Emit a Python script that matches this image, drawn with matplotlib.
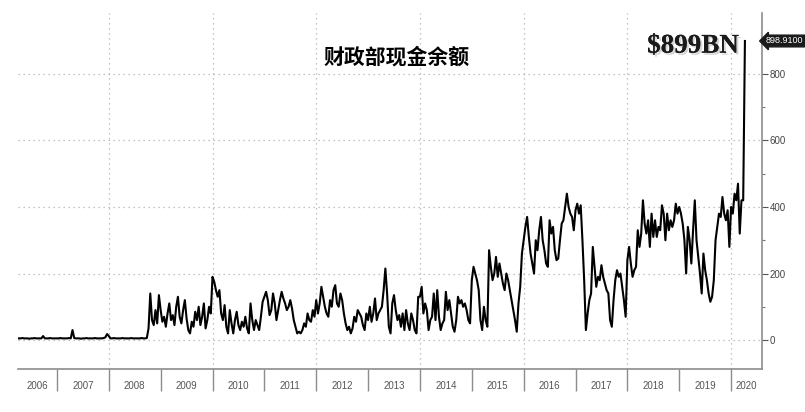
import numpy as np
import matplotlib.pyplot as plt
from matplotlib import patheffects

plt.rcParams['font.family'] = ['Liberation Sans Narrow', 'Liberation Sans', 'DejaVu Sans']

# 财政部现金余额 (十亿美元), 每年 30 个读数, 2006 年从 4 月开始, 2020 年到 4 月
years = list(range(2006, 2021))
cash_2006 = [5, 5, 6, 5, 5, 5, 4, 5, 5, 6, 5, 5, 5, 5, 12, 5, 5, 5, 6, 5, 5, 5]
cash_2007 = [5, 5, 6, 5, 5, 5, 5, 6, 5, 30, 6, 5, 5, 5, 4, 5, 5, 6, 5, 5,
             5, 5, 6, 5, 5, 5, 5, 6, 8, 18]
cash_2008 = [12, 5, 5, 6, 5, 5, 5, 5, 6, 5, 5, 5, 5, 6, 5, 5, 5, 5, 5, 6,
             5, 5, 6, 35, 140, 60, 45, 90, 50, 135]
cash_2009 = [90, 55, 70, 40, 80, 110, 60, 75, 45, 100, 130, 70, 50, 90, 120,
             65, 30, 20, 55, 40, 85, 60, 100, 45, 70, 110, 35, 60, 100, 80]
cash_2010 = [190, 175, 150, 130, 150, 80, 60, 105, 40, 20, 90, 50, 20, 60, 85,
             45, 30, 55, 40, 70, 35, 20, 110, 60, 30, 60, 45, 30, 70, 115]
cash_2011 = [130, 145, 120, 75, 90, 140, 110, 60, 90, 120, 145, 125, 110, 90, 100,
             120, 95, 60, 40, 20, 25, 20, 30, 50, 40, 80, 60, 55, 90, 70]
cash_2012 = [120, 80, 110, 160, 130, 100, 80, 70, 120, 100, 150, 165, 110, 100, 140,
             120, 80, 50, 30, 40, 20, 35, 70, 55, 90, 80, 70, 45, 30, 80]
cash_2013 = [60, 100, 55, 80, 125, 60, 80, 90, 100, 150, 215, 140, 40, 20, 110,
             135, 90, 60, 75, 40, 80, 30, 90, 50, 30, 80, 60, 30, 20, 130]
cash_2014 = [130, 160, 80, 110, 90, 30, 60, 70, 140, 60, 150, 70, 30, 50, 60,
             145, 90, 120, 80, 40, 25, 60, 130, 110, 120, 100, 110, 90, 60, 50]
cash_2015 = [180, 220, 200, 180, 150, 60, 30, 100, 60, 40, 270, 220, 180, 200, 250,
             190, 230, 200, 170, 150, 200, 180, 150, 120, 90, 60, 25, 110, 160, 260]
cash_2016 = [300, 340, 370, 310, 260, 230, 200, 300, 270, 330, 370, 300, 270, 230, 220,
             360, 320, 340, 270, 240, 245, 300, 350, 360, 400, 440, 400, 380, 370, 330]
cash_2017 = [390, 410, 380, 405, 300, 180, 30, 80, 120, 140, 280, 220, 160, 190, 180,
             225, 190, 170, 150, 140, 60, 40, 120, 180, 210, 190, 200, 160, 120, 70]
cash_2018 = [240, 280, 230, 190, 210, 220, 330, 280, 320, 420, 350, 320, 360, 280, 380,
             310, 360, 310, 340, 330, 405, 380, 300, 380, 330, 360, 340, 360, 410, 380]
cash_2019 = [400, 380, 350, 300, 200, 340, 300, 230, 330, 420, 300, 250, 200, 140, 260,
             210, 180, 140, 115, 130, 180, 300, 340, 380, 370, 430, 380, 360, 390, 280]
cash_2020 = [400, 380, 440, 420, 470, 320, 420, 420, 898.91]
yearly = [cash_2006, cash_2007, cash_2008, cash_2009, cash_2010, cash_2011, cash_2012,
          cash_2013, cash_2014, cash_2015, cash_2016, cash_2017, cash_2018, cash_2019,
          cash_2020]
year_labels = [str(y) for y in years]
y_ticks = [0, 200, 400, 600, 800]
last_value = 898.91


def build_series():
    t, v = [], []
    for year, vals in zip(years, yearly):
        start = 30 - len(vals) if year == years[0] else 0
        for i, val in enumerate(vals):
            t.append(year + (start + i) / 30)
            v.append(val)
    return np.array(t), np.array(v)


def draw(t, v):
    fig = plt.figure(figsize=(8.05, 4.12), dpi=100)
    ax = fig.add_axes([0.0224, 0.1044, 0.9238, 0.864])
    x0, x1 = 2006.25, 2020.59
    ax.set_xlim(x0, x1)
    ax.set_ylim(-87, 983)

    # 网格
    for y in y_ticks:
        ax.axhline(y, color='#b0b0b0', lw=0.9, ls=(0, (1, 3)), zorder=0)
    for yr in years[2::2]:
        ax.axvline(yr, color='#b0b0b0', lw=0.9, ls=(0, (1, 3)), zorder=0)

    ax.plot(t, v, color='black', lw=1.5, zorder=3)

    for s in ['top', 'left']:
        ax.spines[s].set_visible(False)
    for s in ['bottom', 'right']:
        ax.spines[s].set_color('#8c8c8c')
        ax.spines[s].set_linewidth(1.2)

    # 右侧 y 轴
    ax.yaxis.tick_right()
    ax.set_yticks(y_ticks)
    ax.set_yticks([100, 300, 500, 700, 900], minor=True)
    ax.tick_params(axis='y', which='major', length=4, width=0.8, color='#555555',
                   labelsize=7, labelcolor='#444444', pad=1.5)
    ax.tick_params(axis='y', which='minor', length=2.5, width=0.8, color='#777777')

    # x 轴: 年份分隔线 + 居中年份
    ax.set_xticks(years[1:])
    ax.set_xticklabels([])
    mids = []
    for i, yr in enumerate(years):
        lo = max(yr, x0)
        hi = min(yr + 1, x1)
        mids.append((lo + hi) / 2)
    ax.set_xticks(mids, minor=True)
    ax.set_xticklabels(year_labels, minor=True)
    ax.tick_params(axis='x', which='major', length=16, width=1, color='#8c8c8c')
    ax.tick_params(axis='x', which='minor', length=0, pad=9, labelsize=7,
                   labelcolor='#555555')

    # 最新值标签
    ax.annotate('898.9100', xy=(1.0, last_value), xycoords=('axes fraction', 'data'),
                xytext=(3, 0), textcoords='offset points', ha='left', va='center',
                fontsize=6.5, color='white', annotation_clip=False,
                bbox=dict(boxstyle='larrow,pad=0.15', fc='#1a1a1a', ec='#1a1a1a'))

    fig.text(0.493, 0.862, '财政部现金余额', fontsize=15, fontweight='bold',
             family=['Noto Sans CJK SC', 'DejaVu Sans'], ha='center', va='center')
    fig.text(0.861, 0.888, '$899BN', family=['Liberation Serif', 'DejaVu Serif'],
             fontsize=19.5, fontweight='bold', color='#1a1a1a', ha='center', va='center',
             path_effects=[patheffects.withSimplePatchShadow(offset=(1.5, -1.5),
                                                              shadow_rgbFace='#999999',
                                                              alpha=0.4),
                           patheffects.Normal()])
    fig.savefig('out.png', dpi=100)


def main():
    t, v = build_series()
    draw(t, v)


if __name__ == '__main__':
    main()
